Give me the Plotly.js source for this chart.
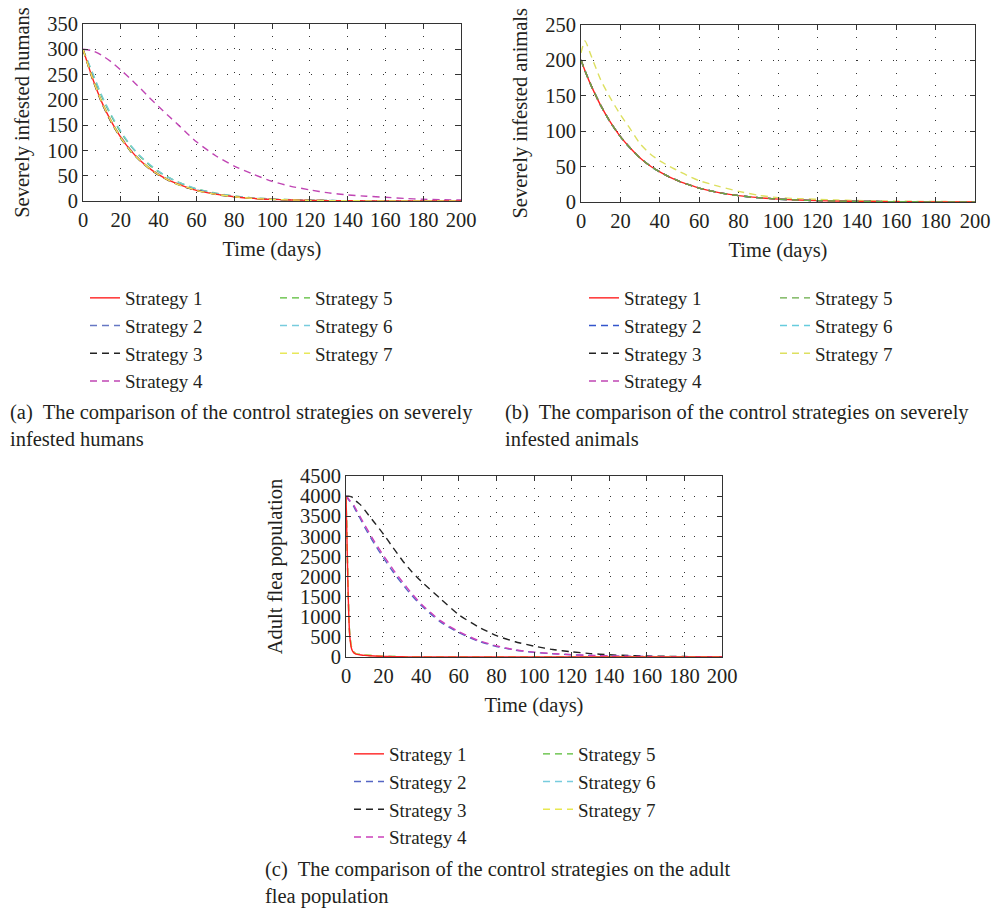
<!DOCTYPE html>
<html>
<head>
<meta charset="utf-8">
<script src="https://cdn.plot.ly/plotly-3.0.1.min.js"></script>
<style>html,body{margin:0;padding:0;background:#fff;}#chart{width:994px;height:913px;}</style>
</head>
<body>
<div id="chart"></div>
<script>
// ---------- data ----------
const strategyNames = ["Strategy 1","Strategy 2","Strategy 3","Strategy 4","Strategy 5","Strategy 6","Strategy 7"];
const xTicks = [0,20,40,60,80,100,120,140,160,180,200];

// (a) severely infested humans
const tA = [0,5,10,15,20,25,30,35,40,45,50,55,60,70,80,90,100,110,120,130,140,150,160,170,180,190,200];
const humS1 = [300,243,195,157,126,101,81,65,52,42,34,27,21,13.5,8.5,5.2,3.3,2.1,1.3,0.8,0.5,0.3,0.2,0.1,0.1,0.05,0.03];
const humS2 = [300,244,196,158,127,102,82,66,53,43,34,27,22,14,8.7,5.4,3.4,2.2,1.4,0.9,0.5,0.3,0.2,0.1,0.1,0.05,0.03];
const humS3 = [300,241,193,155,124,99,80,64,51,41,33,26,21,13,8.3,5.1,3.2,2,1.3,0.8,0.5,0.3,0.2,0.1,0.1,0.05,0.03];
const humS4 = [300,297,288,275,259,242,224,205,187,169,152,134,117,90,69,53,39,29,22,16,12,9.5,7.3,5.2,3.4,2.5,2];
const humS5 = [300,252,206,168,136,110,89,72,58,47,38,30,24,15.5,9.7,6,3.8,2.4,1.5,1,0.6,0.4,0.25,0.15,0.1,0.06,0.04];
const humS6 = [300,254,208,170,138,111,90,73,59,47,38,31,24,15.5,9.8,6.1,3.8,2.4,1.5,1,0.6,0.4,0.25,0.15,0.1,0.06,0.04];
const humS7 = [300,243,195,157,125,100,81,65,52,42,33,27,21,13.5,8.5,5.2,3.3,2.1,1.3,0.8,0.5,0.3,0.2,0.1,0.1,0.05,0.03];

// (b) severely infested animals
const tB = [0,2,5,10,15,20,25,30,35,40,45,50,55,60,70,80,90,100,110,120,130,140,150,160,170,180,190,200];
const aniS1 = [200,185,165,136,112,92,76,62,51,42.5,35,29,24,19.5,13.2,9,6.1,4.1,2.8,1.9,1.3,0.9,0.6,0.4,0.27,0.18,0.12,0.08];
const aniS2 = aniS1, aniS3 = aniS1, aniS4 = aniS1, aniS6 = aniS1;
const aniS5 = [200,185,165,136,112,92,76,62,51,42.5,35,29,24,19.5,13.2,9,6.1,4.1,2.8,1.9,1.3,0.9,0.6,0.4,0.27,0.18,0.12,0.08];
const aniS7 = [210,227,207,172,146,123,103,82,68,58,50,43,36,30,22,15,9.5,6.2,4.8,3.8,2.8,2.1,1.6,1.2,0.9,0.7,0.5,0.4];

// (c) adult flea population
const tC = [0,0.5,1,1.5,2,3,4,5,6,8,10,15,20,25,30,35,40,50,60,70,80,90,100,110,120,130,140,150,160,170,180,190,200];
const fleaFast = [4000,3000,1900,1050,560,230,130,92,78,62,50,32,20,13,8,5,3,1.5,1,0.6,0.4,0.3,0.2,0.1,0.1,0.1,0.05,0.05,0.03,0.02,0.02,0.01,0.01];
const fleaS1 = [4000,2950,1850,1000,520,200,110,78,64,50,40,25,15,9,5,3,2,1,0.6,0.4,0.3,0.2,0.1,0.1,0.05,0.05,0.03,0.02,0.02,0.01,0.01,0.01,0.01];
const fleaS2 = [4000,3970,3940,3900,3870,3810,3750,3660,3580,3400,3220,2820,2460,2120,1810,1530,1280,880,605,400,262,172,114,80,55,38,26,17,11,7.5,5.5,3.7,2.8];
const fleaS3 = [4000,4000,4000,4000,3995,3980,3950,3890,3850,3770,3650,3350,3050,2720,2400,2120,1880,1460,1050,760,530,380,270,185,130,85,55,38,25,17,11,7,5];
const fleaS4 = [4000,3980,3950,3920,3890,3840,3790,3700,3620,3450,3280,2880,2520,2180,1870,1580,1320,910,630,420,275,180,120,85,58,40,27,18,12,8,6,4,3];
const fleaS5 = fleaFast, fleaS6 = fleaFast, fleaS7 = fleaFast;

// ---------- styling ----------
const FONT = "Liberation Serif, Times New Roman, serif";
const TXT = "#231f20";
const FS = 20.5;
const LFS = 19;
const colorsA = ["#ff2222","#6677c4","#222222","#c045b4","#55bb33","#77ccdd","#e8e85a"];
const colorsB = ["#ff2222","#3355cc","#222222","#c045b4","#66aa44","#66ccdd","#dde060"];
const colorsC = ["#ff2222","#5566c4","#222222","#cc40bb","#55bb33","#77ccdd","#e8e850"];
const DASH = "7px,5px";

function makeTraces(t, series, colors, xa, ya, lg1, lg2, order) {
  const out = [];
  order.forEach(i => {
    out.push({
      x: t, y: series[i], type: "scatter", mode: "lines",
      name: strategyNames[i], xaxis: xa, yaxis: ya,
      legend: i < 4 ? lg1 : lg2, legendrank: i + 1,
      line: {color: colors[i], width: 1.4, dash: i === 0 ? "solid" : DASH, shape: "spline", smoothing: 0.6},
      hoverinfo: "skip"
    });
  });
  return out;
}

const data = [].concat(
  makeTraces(tA, [humS1,humS2,humS3,humS4,humS5,humS6,humS7], colorsA, "x", "y", "legend", "legend2", [3,4,5,1,2,0,6]),
  makeTraces(tB, [aniS1,aniS2,aniS3,aniS4,aniS5,aniS6,aniS7], colorsB, "x2", "y2", "legend3", "legend4", [6,1,2,3,5,0,4]),
  makeTraces(tC, [fleaS1,fleaS2,fleaS3,fleaS4,fleaS5,fleaS6,fleaS7], colorsC, "x3", "y3", "legend5", "legend6", [2,1,3,4,5,6,0])
);

function xax(domain, anchor) {
  return {
    domain: domain, anchor: anchor, range: [0,200], tickvals: xTicks, ticktext: xTicks.map(String),
    showline: true, linecolor: "#333", linewidth: 1, mirror: "ticks", ticks: "inside", ticklen: 5, tickcolor: "#333",
    showgrid: true, gridcolor: "#333", gridwidth: 1, griddash: "1px,11px", zeroline: false,
    tickfont: {family: FONT, size: FS, color: TXT},
    title: {text: "Time (days)", font: {family: FONT, size: FS, color: TXT}, standoff: 12}
  };
}
function yax(domain, anchor, range, dtick, title) {
  return {
    domain: domain, anchor: anchor, range: range, dtick: dtick, tick0: 0,
    showline: true, linecolor: "#333", linewidth: 1, mirror: "ticks", ticks: "inside", ticklen: 5, tickcolor: "#333",
    showgrid: true, gridcolor: "#333", gridwidth: 1, griddash: "1px,11px", zeroline: false,
    tickfont: {family: FONT, size: FS, color: TXT},
    title: {text: title, font: {family: FONT, size: FS, color: TXT}, standoff: 11}
  };
}
function leg(x, y) {
  return {x: x, y: y, xanchor: "left", yanchor: "top", bgcolor: "rgba(0,0,0,0)", borderwidth: 0,
          font: {family: FONT, size: LFS, color: TXT}, traceorder: "normal", itemwidth: 30};
}
const W = 994, H = 913;
const px = v => v / W, py = v => 1 - v / H;

const layout = {
  width: W, height: H, margin: {l:0, r:0, t:0, b:0}, paper_bgcolor: "#fff", plot_bgcolor: "#fff",
  showlegend: true,
  xaxis: xax([px(83), px(461)], "y"),
  yaxis: yax([py(201), py(24)], "x", [0,350], 50, "Severely infested humans"),
  xaxis2: xax([px(581), px(975)], "y2"),
  yaxis2: yax([py(202), py(24.5)], "x2", [0,250], 50, "Severely infested animals"),
  xaxis3: xax([px(346), px(722)], "y3"),
  yaxis3: yax([py(657), py(476)], "x3", [0,4500], 500, "Adult flea population"),
  legend: leg(px(85), py(279)),
  legend2: leg(px(275), py(279)),
  legend3: leg(px(584), py(279)),
  legend4: leg(px(775), py(279)),
  legend5: leg(px(349), py(735)),
  legend6: leg(px(538), py(735)),
  annotations: [
    {text: "(a)  The comparison of the control strategies on severely<br>infested humans", x: px(8), y: py(399), xref: "paper", yref: "paper", xanchor: "left", yanchor: "top", align: "left", showarrow: false, font: {family: FONT, size: FS, color: TXT}},
    {text: "(b)  The comparison of the control strategies on severely<br>infested animals", x: px(503), y: py(399), xref: "paper", yref: "paper", xanchor: "left", yanchor: "top", align: "left", showarrow: false, font: {family: FONT, size: FS, color: TXT}},
    {text: "(c)  The comparison of the control strategies on the adult<br>flea population", x: px(263), y: py(856), xref: "paper", yref: "paper", xanchor: "left", yanchor: "top", align: "left", showarrow: false, font: {family: FONT, size: FS, color: TXT}}
  ]
};

Plotly.newPlot("chart", data, layout, {staticPlot: true, displayModeBar: false});
</script>
</body>
</html>
